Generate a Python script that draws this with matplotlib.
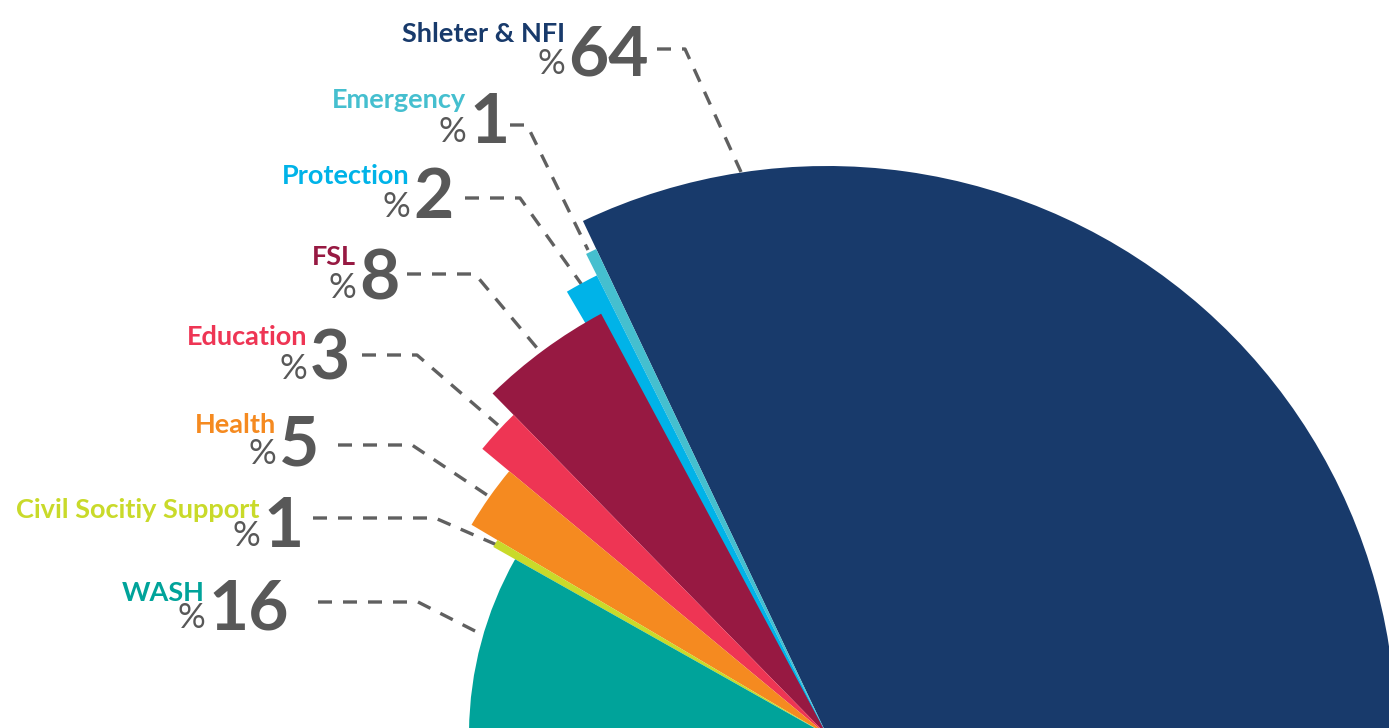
import matplotlib
matplotlib.use("Agg")
import matplotlib.pyplot as plt
from matplotlib.patches import Wedge

# categories and the percentages printed next to them
categories = ["Shleter & NFI", "Emergency", "Protection", "FSL",
              "Education", "Health", "Civil Socitiy Support", "WASH"]
percent = [64, 1, 2, 8, 3, 5, 1, 16]

# wedge extents as drawn in the picture (degrees ccw from east) and outer radius (px)
start_deg = [-151.8, 115.4, 116.6, 118.2, 134.4, 140.3, 149.4, 150.6]
end_deg = [115.4, 116.6, 120.4, 134.4, 140.3, 149.4, 150.6, 208.2]
radius = [569, 538, 514, 478, 448, 413, 383, 358]

colors = ["#183a6b", "#45bfcf", "#00b3e8", "#971942",
          "#ee3554", "#f58a20", "#c9da2a", "#00a39a"]
grey = "#585858"

W, H = 1389, 728
center = (827, 735)

# label anchors: x of the name's right edge, name baseline, number baseline
anchor_x = [565, 466, 410, 356, 307, 276, 260, 205]
name_y = [42, 108, 184, 265, 345, 433, 518, 601]
num_y = [75, 143, 218, 299, 380, 465, 547, 629]

# dashed leaders: start x, elbow x, y, end point on the wedge
lead_x0 = [657, 510, 465, 407, 362, 338, 313, 318]
lead_x1 = [685, 527, 520, 475, 417, 412, 435, 418]
lead_y = [49, 125, 198, 274, 355, 445, 518, 602]
lead_end = [(741, 172), (588, 250), (582, 285), (537, 348),
            (498, 425), (490, 497), (497, 545), (477, 632)]

fig = plt.figure(figsize=(W / 100, H / 100), dpi=100)
ax = fig.add_axes([0, 0, 1, 1])
ax.set_xlim(0, W)
ax.set_ylim(H, 0)
ax.axis("off")

# y axis is flipped, so visual angles are negated
for i in range(len(categories)):
    ax.add_patch(Wedge(center, radius[i], -end_deg[i], -start_deg[i],
                       facecolor=colors[i], edgecolor="none", zorder=2))

for i in range(len(categories)):
    x = anchor_x[i]
    ax.text(x, name_y[i], categories[i], color=colors[i], fontsize=19.5,
            fontweight="bold", family="Lato", ha="right", va="baseline")
    ax.text(x + 3, num_y[i], str(percent[i]), color=grey, fontsize=50,
            fontweight="bold", family="Lato", ha="left", va="baseline")
    ax.text(x, num_y[i] - 1, "%", color=grey, fontsize=25,
            family="Lato", ha="right", va="baseline")
    ex, ey = lead_end[i]
    ax.plot([lead_x0[i], lead_x1[i], ex], [lead_y[i], lead_y[i], ey],
            color="#606060", lw=2.4, linestyle=(0, (4.2, 3.3)),
            dash_capstyle="butt", zorder=1)

fig.savefig("out.png", dpi=100)
